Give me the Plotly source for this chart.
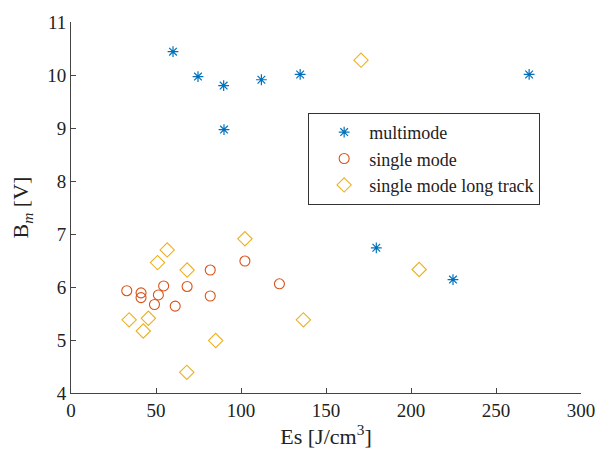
import plotly.graph_objects as go

multi_x = [60.0, 74.7, 89.8, 90.0, 112.0, 134.8, 179.6, 224.7, 269.5]
multi_y = [10.44, 9.97, 9.80, 8.97, 9.91, 10.01, 6.74, 6.14, 10.01]

single_x = [32.8, 41.2, 41.2, 49.1, 51.4, 54.5, 61.3, 68.3, 81.9, 81.9, 102.3, 122.6]
single_y = [5.93, 5.89, 5.80, 5.67, 5.85, 6.02, 5.64, 6.01, 6.32, 5.83, 6.49, 6.06]

long_x = [34.2, 42.5, 45.5, 50.9, 56.6, 68.3, 68.1, 85.1, 102.3, 136.7, 170.6, 204.8]
long_y = [5.38, 5.17, 5.41, 6.46, 6.70, 6.32, 4.39, 4.99, 6.91, 5.38, 10.28, 6.33]

x_ticks = [0, 50, 100, 150, 200, 250, 300]
y_ticks = [4, 5, 6, 7, 8, 9, 10, 11]

FONT = "'Liberation Serif', 'DejaVu Serif', 'Times New Roman', serif"

fig = go.Figure()
fig.add_trace(go.Scatter(x=multi_x, y=multi_y, mode="markers", name="multimode",
                         marker=dict(symbol="asterisk-open", size=9, color="#0072BD",
                                     line=dict(color="#0072BD", width=1.2))))
fig.add_trace(go.Scatter(x=single_x, y=single_y, mode="markers", name="single mode",
                         marker=dict(symbol="circle-open", size=10, color="#D95319",
                                     line=dict(color="#D95319", width=1.1))))
fig.add_trace(go.Scatter(x=long_x, y=long_y, mode="markers", name="single mode long track",
                         marker=dict(symbol="diamond-open", size=11, color="#EDB120",
                                     line=dict(color="#EDB120", width=1.1))))

fig.update_layout(
    width=607, height=450,
    margin=dict(l=71, r=20, t=14, b=55),
    paper_bgcolor="white", plot_bgcolor="white",
    font=dict(family=FONT, size=19, color="#222"),
    showlegend=True,
    legend=dict(x=0.465, y=0.755, xanchor="left", yanchor="top",
                bordercolor="#333", borderwidth=1, bgcolor="white",
                font=dict(family=FONT, size=18, color="#222"),
                itemwidth=40, indentation=10, tracegroupgap=0),
    xaxis=dict(range=[0, 300], tickvals=x_ticks, ticks="inside", ticklen=5,
               showline=True, linecolor="#444", linewidth=1, tickcolor="#444",
               showgrid=False, zeroline=False,
               title=dict(text="Es [J/cm<sup>3</sup>]", font=dict(size=22), standoff=2)),
    yaxis=dict(range=[4, 11], tickvals=y_ticks, ticks="inside", ticklen=5,
               showline=True, linecolor="#444", linewidth=1, tickcolor="#444",
               showgrid=False, zeroline=False,
               title=dict(text="B<sub><i>m</i></sub> [V]", font=dict(size=22), standoff=12)),
)

fig.write_html("out.html")
